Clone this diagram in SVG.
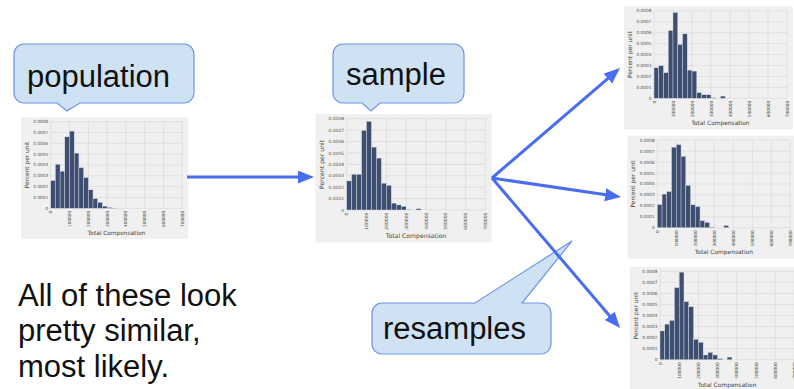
<svg xmlns="http://www.w3.org/2000/svg" xmlns:xlink="http://www.w3.org/1999/xlink" width="794" height="389" viewBox="0 0 794 389">
<style>
.panel{fill:#f0f0f0}
.grid{stroke:#d6d6d6;stroke-width:0.6;fill:none}
.bars rect{fill:#3d4e71;stroke:#dfe3ea;stroke-width:0.4}
.tick{font-family:"DejaVu Sans",sans-serif;font-size:4.3px;fill:#555}
.lab{font-family:"DejaVu Sans",sans-serif;font-size:5.9px;fill:#444}
.callout{fill:#cfe2f3;stroke:#6d94ea;stroke-width:1.2}
.big{font-family:"Liberation Sans",Arial,sans-serif;font-size:31px;fill:#111}
.arrow{stroke:#4a6cf0;stroke-width:3;fill:none}
</style>
<defs>
<marker id="ah" markerUnits="userSpaceOnUse" markerWidth="17" markerHeight="14" refX="11" refY="6.5" orient="auto">
<path d="M0,0 L16,6.5 L0,13 Z" fill="#4a6cf0"/>
</marker>
<g id="grid">
<path class="grid" d="M0,0V-87.5M19,0V-87.5M38,0V-87.5M57,0V-87.5M76,0V-87.5M95,0V-87.5M114,0V-87.5M133,0V-87.5M0,0H133M0,-10.94H133M0,-21.88H133M0,-32.81H133M0,-43.75H133M0,-54.69H133M0,-65.63H133M0,-76.56H133M0,-87.5H133"/>
</g>
</defs>

<g id="hist-population" transform="translate(50.7,208.3) scale(0.99)">
<rect class="panel" x="-30" y="-92" width="169" height="123"/>
<use xlink:href="#grid" href="#grid"/>
<g class="bars">
<rect x="0" y="-28.1" width="4.75" height="28.1"/>
<rect x="4.75" y="-44.5" width="4.75" height="44.5"/>
<rect x="9.5" y="-37.5" width="4.75" height="37.5"/>
<rect x="14.25" y="-72.2" width="4.75" height="72.2"/>
<rect x="19" y="-78" width="4.75" height="78"/>
<rect x="23.75" y="-55.8" width="4.75" height="55.8"/>
<rect x="28.5" y="-41.1" width="4.75" height="41.1"/>
<rect x="33.25" y="-31.1" width="4.75" height="31.1"/>
<rect x="38" y="-18.7" width="4.75" height="18.7"/>
<rect x="42.75" y="-9.8" width="4.75" height="9.8"/>
<rect x="47.5" y="-6" width="4.75" height="6"/>
<rect x="52.25" y="-2.2" width="4.75" height="2.2"/>
<rect x="57" y="-0.9" width="4.75" height="0.9"/>
<rect x="61.75" y="-0.3" width="4.75" height="0.3"/>
</g>
<text class="tick" text-anchor="end"><tspan x="-2.5" y="1.5">0</tspan><tspan x="-2.5" y="-9.44">0.0001</tspan><tspan x="-2.5" y="-20.38">0.0002</tspan><tspan x="-2.5" y="-31.31">0.0003</tspan><tspan x="-2.5" y="-42.25">0.0004</tspan><tspan x="-2.5" y="-53.19">0.0005</tspan><tspan x="-2.5" y="-64.13">0.0006</tspan><tspan x="-2.5" y="-75.06">0.0007</tspan><tspan x="-2.5" y="-86">0.0008</tspan></text>
<text class="tick" transform="rotate(-90)" text-anchor="end"><tspan x="-2.5" y="1.55">0</tspan><tspan x="-2.5" y="20.55">100000</tspan><tspan x="-2.5" y="39.55">200000</tspan><tspan x="-2.5" y="58.55">300000</tspan><tspan x="-2.5" y="77.55">400000</tspan><tspan x="-2.5" y="96.55">500000</tspan><tspan x="-2.5" y="115.55">600000</tspan><tspan x="-2.5" y="134.55">700000</tspan></text>
<text class="lab" x="66.5" y="26.8" text-anchor="middle">Total Compensation</text>
<text class="lab" transform="translate(-22,-43.75) rotate(-90)" text-anchor="middle">Percent per unit</text>
</g>

<g id="hist-sample" transform="translate(346.7,210) scale(1.043)">
<rect class="panel" x="-30" y="-92" width="169" height="123"/>
<use xlink:href="#grid" href="#grid"/>
<g class="bars">
<rect x="0" y="-27.9" width="4.75" height="27.9"/>
<rect x="4.75" y="-34.3" width="4.75" height="34.3"/>
<rect x="9.5" y="-34.3" width="4.75" height="34.3"/>
<rect x="14.25" y="-76.3" width="4.75" height="76.3"/>
<rect x="19" y="-85" width="4.75" height="85"/>
<rect x="23.75" y="-60.3" width="4.75" height="60.3"/>
<rect x="28.5" y="-49.8" width="4.75" height="49.8"/>
<rect x="33.25" y="-25.7" width="4.75" height="25.7"/>
<rect x="38" y="-23.7" width="4.75" height="23.7"/>
<rect x="42.75" y="-6.6" width="4.75" height="6.6"/>
<rect x="47.5" y="-4.9" width="4.75" height="4.9"/>
<rect x="52.25" y="-3.5" width="4.75" height="3.5"/>
<rect x="57" y="-0.5" width="4.75" height="0.5"/>
<rect x="66.5" y="-1.3" width="4.75" height="1.3"/>
</g>
<text class="tick" text-anchor="end"><tspan x="-2.5" y="1.5">0</tspan><tspan x="-2.5" y="-9.44">0.0001</tspan><tspan x="-2.5" y="-20.38">0.0002</tspan><tspan x="-2.5" y="-31.31">0.0003</tspan><tspan x="-2.5" y="-42.25">0.0004</tspan><tspan x="-2.5" y="-53.19">0.0005</tspan><tspan x="-2.5" y="-64.13">0.0006</tspan><tspan x="-2.5" y="-75.06">0.0007</tspan><tspan x="-2.5" y="-86">0.0008</tspan></text>
<text class="tick" transform="rotate(-90)" text-anchor="end"><tspan x="-2.5" y="1.55">0</tspan><tspan x="-2.5" y="20.55">100000</tspan><tspan x="-2.5" y="39.55">200000</tspan><tspan x="-2.5" y="58.55">300000</tspan><tspan x="-2.5" y="77.55">400000</tspan><tspan x="-2.5" y="96.55">500000</tspan><tspan x="-2.5" y="115.55">600000</tspan><tspan x="-2.5" y="134.55">700000</tspan></text>
<text class="lab" x="66.5" y="26.8" text-anchor="middle">Total Compensation</text>
<text class="lab" transform="translate(-22,-43.75) rotate(-90)" text-anchor="middle">Percent per unit</text>
</g>

<g id="hist-resample-1" transform="translate(654,98.3)">
<rect class="panel" x="-30" y="-92" width="169" height="123"/>
<use xlink:href="#grid" href="#grid"/>
<g class="bars">
<rect x="0" y="-30.6" width="4.75" height="30.6"/>
<rect x="4.75" y="-32.6" width="4.75" height="32.6"/>
<rect x="9.5" y="-25.6" width="4.75" height="25.6"/>
<rect x="14.25" y="-67.8" width="4.75" height="67.8"/>
<rect x="19" y="-85.8" width="4.75" height="85.8"/>
<rect x="23.75" y="-53.8" width="4.75" height="53.8"/>
<rect x="28.5" y="-64.5" width="4.75" height="64.5"/>
<rect x="33.25" y="-28.2" width="4.75" height="28.2"/>
<rect x="38" y="-27.2" width="4.75" height="27.2"/>
<rect x="42.75" y="-5.7" width="4.75" height="5.7"/>
<rect x="47.5" y="-3.6" width="4.75" height="3.6"/>
<rect x="52.25" y="-3.6" width="4.75" height="3.6"/>
<rect x="57" y="-0.5" width="4.75" height="0.5"/>
<rect x="66.5" y="-2.2" width="4.75" height="2.2"/>
</g>
<text class="tick" text-anchor="end"><tspan x="-2.5" y="1.5">0</tspan><tspan x="-2.5" y="-9.44">0.0001</tspan><tspan x="-2.5" y="-20.38">0.0002</tspan><tspan x="-2.5" y="-31.31">0.0003</tspan><tspan x="-2.5" y="-42.25">0.0004</tspan><tspan x="-2.5" y="-53.19">0.0005</tspan><tspan x="-2.5" y="-64.13">0.0006</tspan><tspan x="-2.5" y="-75.06">0.0007</tspan><tspan x="-2.5" y="-86">0.0008</tspan></text>
<text class="tick" transform="rotate(-90)" text-anchor="end"><tspan x="-2.5" y="1.55">0</tspan><tspan x="-2.5" y="20.55">100000</tspan><tspan x="-2.5" y="39.55">200000</tspan><tspan x="-2.5" y="58.55">300000</tspan><tspan x="-2.5" y="77.55">400000</tspan><tspan x="-2.5" y="96.55">500000</tspan><tspan x="-2.5" y="115.55">600000</tspan><tspan x="-2.5" y="134.55">700000</tspan></text>
<text class="lab" x="66.5" y="26.8" text-anchor="middle">Total Compensation</text>
<text class="lab" transform="translate(-22,-43.75) rotate(-90)" text-anchor="middle">Percent per unit</text>
</g>

<g id="hist-resample-2" transform="translate(657.3,227.7)">
<rect class="panel" x="-30" y="-92" width="169" height="123"/>
<use xlink:href="#grid" href="#grid"/>
<g class="bars">
<rect x="0" y="-23.2" width="4.75" height="23.2"/>
<rect x="4.75" y="-33.6" width="4.75" height="33.6"/>
<rect x="9.5" y="-36.2" width="4.75" height="36.2"/>
<rect x="14.25" y="-80.5" width="4.75" height="80.5"/>
<rect x="19" y="-83.1" width="4.75" height="83.1"/>
<rect x="23.75" y="-71.4" width="4.75" height="71.4"/>
<rect x="28.5" y="-42.3" width="4.75" height="42.3"/>
<rect x="33.25" y="-22.9" width="4.75" height="22.9"/>
<rect x="38" y="-21.1" width="4.75" height="21.1"/>
<rect x="42.75" y="-7" width="4.75" height="7"/>
<rect x="47.5" y="-5.4" width="4.75" height="5.4"/>
<rect x="52.25" y="-0.5" width="4.75" height="0.5"/>
<rect x="66.5" y="-2.2" width="4.75" height="2.2"/>
</g>
<text class="tick" text-anchor="end"><tspan x="-2.5" y="1.5">0</tspan><tspan x="-2.5" y="-9.44">0.0001</tspan><tspan x="-2.5" y="-20.38">0.0002</tspan><tspan x="-2.5" y="-31.31">0.0003</tspan><tspan x="-2.5" y="-42.25">0.0004</tspan><tspan x="-2.5" y="-53.19">0.0005</tspan><tspan x="-2.5" y="-64.13">0.0006</tspan><tspan x="-2.5" y="-75.06">0.0007</tspan><tspan x="-2.5" y="-86">0.0008</tspan></text>
<text class="tick" transform="rotate(-90)" text-anchor="end"><tspan x="-2.5" y="1.55">0</tspan><tspan x="-2.5" y="20.55">100000</tspan><tspan x="-2.5" y="39.55">200000</tspan><tspan x="-2.5" y="58.55">300000</tspan><tspan x="-2.5" y="77.55">400000</tspan><tspan x="-2.5" y="96.55">500000</tspan><tspan x="-2.5" y="115.55">600000</tspan><tspan x="-2.5" y="134.55">700000</tspan></text>
<text class="lab" x="66.5" y="26.8" text-anchor="middle">Total Compensation</text>
<text class="lab" transform="translate(-22,-43.75) rotate(-90)" text-anchor="middle">Percent per unit</text>
</g>

<g id="hist-resample-3" transform="translate(660,359.7) scale(1.01)">
<rect class="panel" x="-30" y="-92" width="169" height="123"/>
<use xlink:href="#grid" href="#grid"/>
<g class="bars">
<rect x="0" y="-28.5" width="4.75" height="28.5"/>
<rect x="4.75" y="-35.2" width="4.75" height="35.2"/>
<rect x="9.5" y="-38.9" width="4.75" height="38.9"/>
<rect x="14.25" y="-71.4" width="4.75" height="71.4"/>
<rect x="19" y="-86.7" width="4.75" height="86.7"/>
<rect x="23.75" y="-57.5" width="4.75" height="57.5"/>
<rect x="28.5" y="-52.5" width="4.75" height="52.5"/>
<rect x="33.25" y="-20.2" width="4.75" height="20.2"/>
<rect x="38" y="-17.3" width="4.75" height="17.3"/>
<rect x="42.75" y="-4.7" width="4.75" height="4.7"/>
<rect x="47.5" y="-7.3" width="4.75" height="7.3"/>
<rect x="52.25" y="-4.7" width="4.75" height="4.7"/>
<rect x="57" y="-1.1" width="4.75" height="1.1"/>
<rect x="66.5" y="-2.6" width="4.75" height="2.6"/>
</g>
<text class="tick" text-anchor="end"><tspan x="-2.5" y="1.5">0</tspan><tspan x="-2.5" y="-9.44">0.0001</tspan><tspan x="-2.5" y="-20.38">0.0002</tspan><tspan x="-2.5" y="-31.31">0.0003</tspan><tspan x="-2.5" y="-42.25">0.0004</tspan><tspan x="-2.5" y="-53.19">0.0005</tspan><tspan x="-2.5" y="-64.13">0.0006</tspan><tspan x="-2.5" y="-75.06">0.0007</tspan><tspan x="-2.5" y="-86">0.0008</tspan></text>
<text class="tick" transform="rotate(-90)" text-anchor="end"><tspan x="-2.5" y="1.55">0</tspan><tspan x="-2.5" y="20.55">100000</tspan><tspan x="-2.5" y="39.55">200000</tspan><tspan x="-2.5" y="58.55">300000</tspan><tspan x="-2.5" y="77.55">400000</tspan><tspan x="-2.5" y="96.55">500000</tspan><tspan x="-2.5" y="115.55">600000</tspan><tspan x="-2.5" y="134.55">700000</tspan></text>
<text class="lab" x="66.5" y="26.8" text-anchor="middle">Total Compensation</text>
<text class="lab" transform="translate(-22,-43.75) rotate(-90)" text-anchor="middle">Percent per unit</text>
</g>

<g id="callout-population">
<path class="callout" d="M24,44 H184 A10,10 0 0 1 194,54 V93 A10,10 0 0 1 184,103 H80 L67,111 L57,103 H24 A10,10 0 0 1 14,93 V54 A10,10 0 0 1 24,44 Z"/>
<text class="big" x="27" y="86.5">population</text>
</g>

<g id="callout-sample">
<path class="callout" d="M343,44 H454 A10,10 0 0 1 464,54 V93 A10,10 0 0 1 454,103 H380 L371,111 L362,103 H343 A10,10 0 0 1 333,93 V54 A10,10 0 0 1 343,44 Z"/>
<text class="big" x="346" y="85">sample</text>
</g>

<g id="callout-resamples">
<path class="callout" d="M382,303 H475 L572,241 L522,303 H541 A10,10 0 0 1 551,313 V344 A10,10 0 0 1 541,354 H382 A10,10 0 0 1 372,344 V313 A10,10 0 0 1 382,303 Z"/>
<text class="big" x="383" y="338.5">resamples</text>
</g>

<g id="caption">
<text class="big" x="18" y="305.5">All of these look</text>
<text class="big" x="18" y="341">pretty similar,</text>
<text class="big" x="18" y="377">most likely.</text>
</g>

<g id="connectors">
<line class="arrow" x1="187" y1="177" x2="309" y2="177" marker-end="url(#ah)"/>
<line class="arrow" x1="492" y1="178" x2="616.2" y2="71.3" marker-end="url(#ah)"/>
<line class="arrow" x1="492" y1="178" x2="616.1" y2="196.3" marker-end="url(#ah)"/>
<line class="arrow" x1="492" y1="178" x2="616.8" y2="324.2" marker-end="url(#ah)"/>
</g>
</svg>
